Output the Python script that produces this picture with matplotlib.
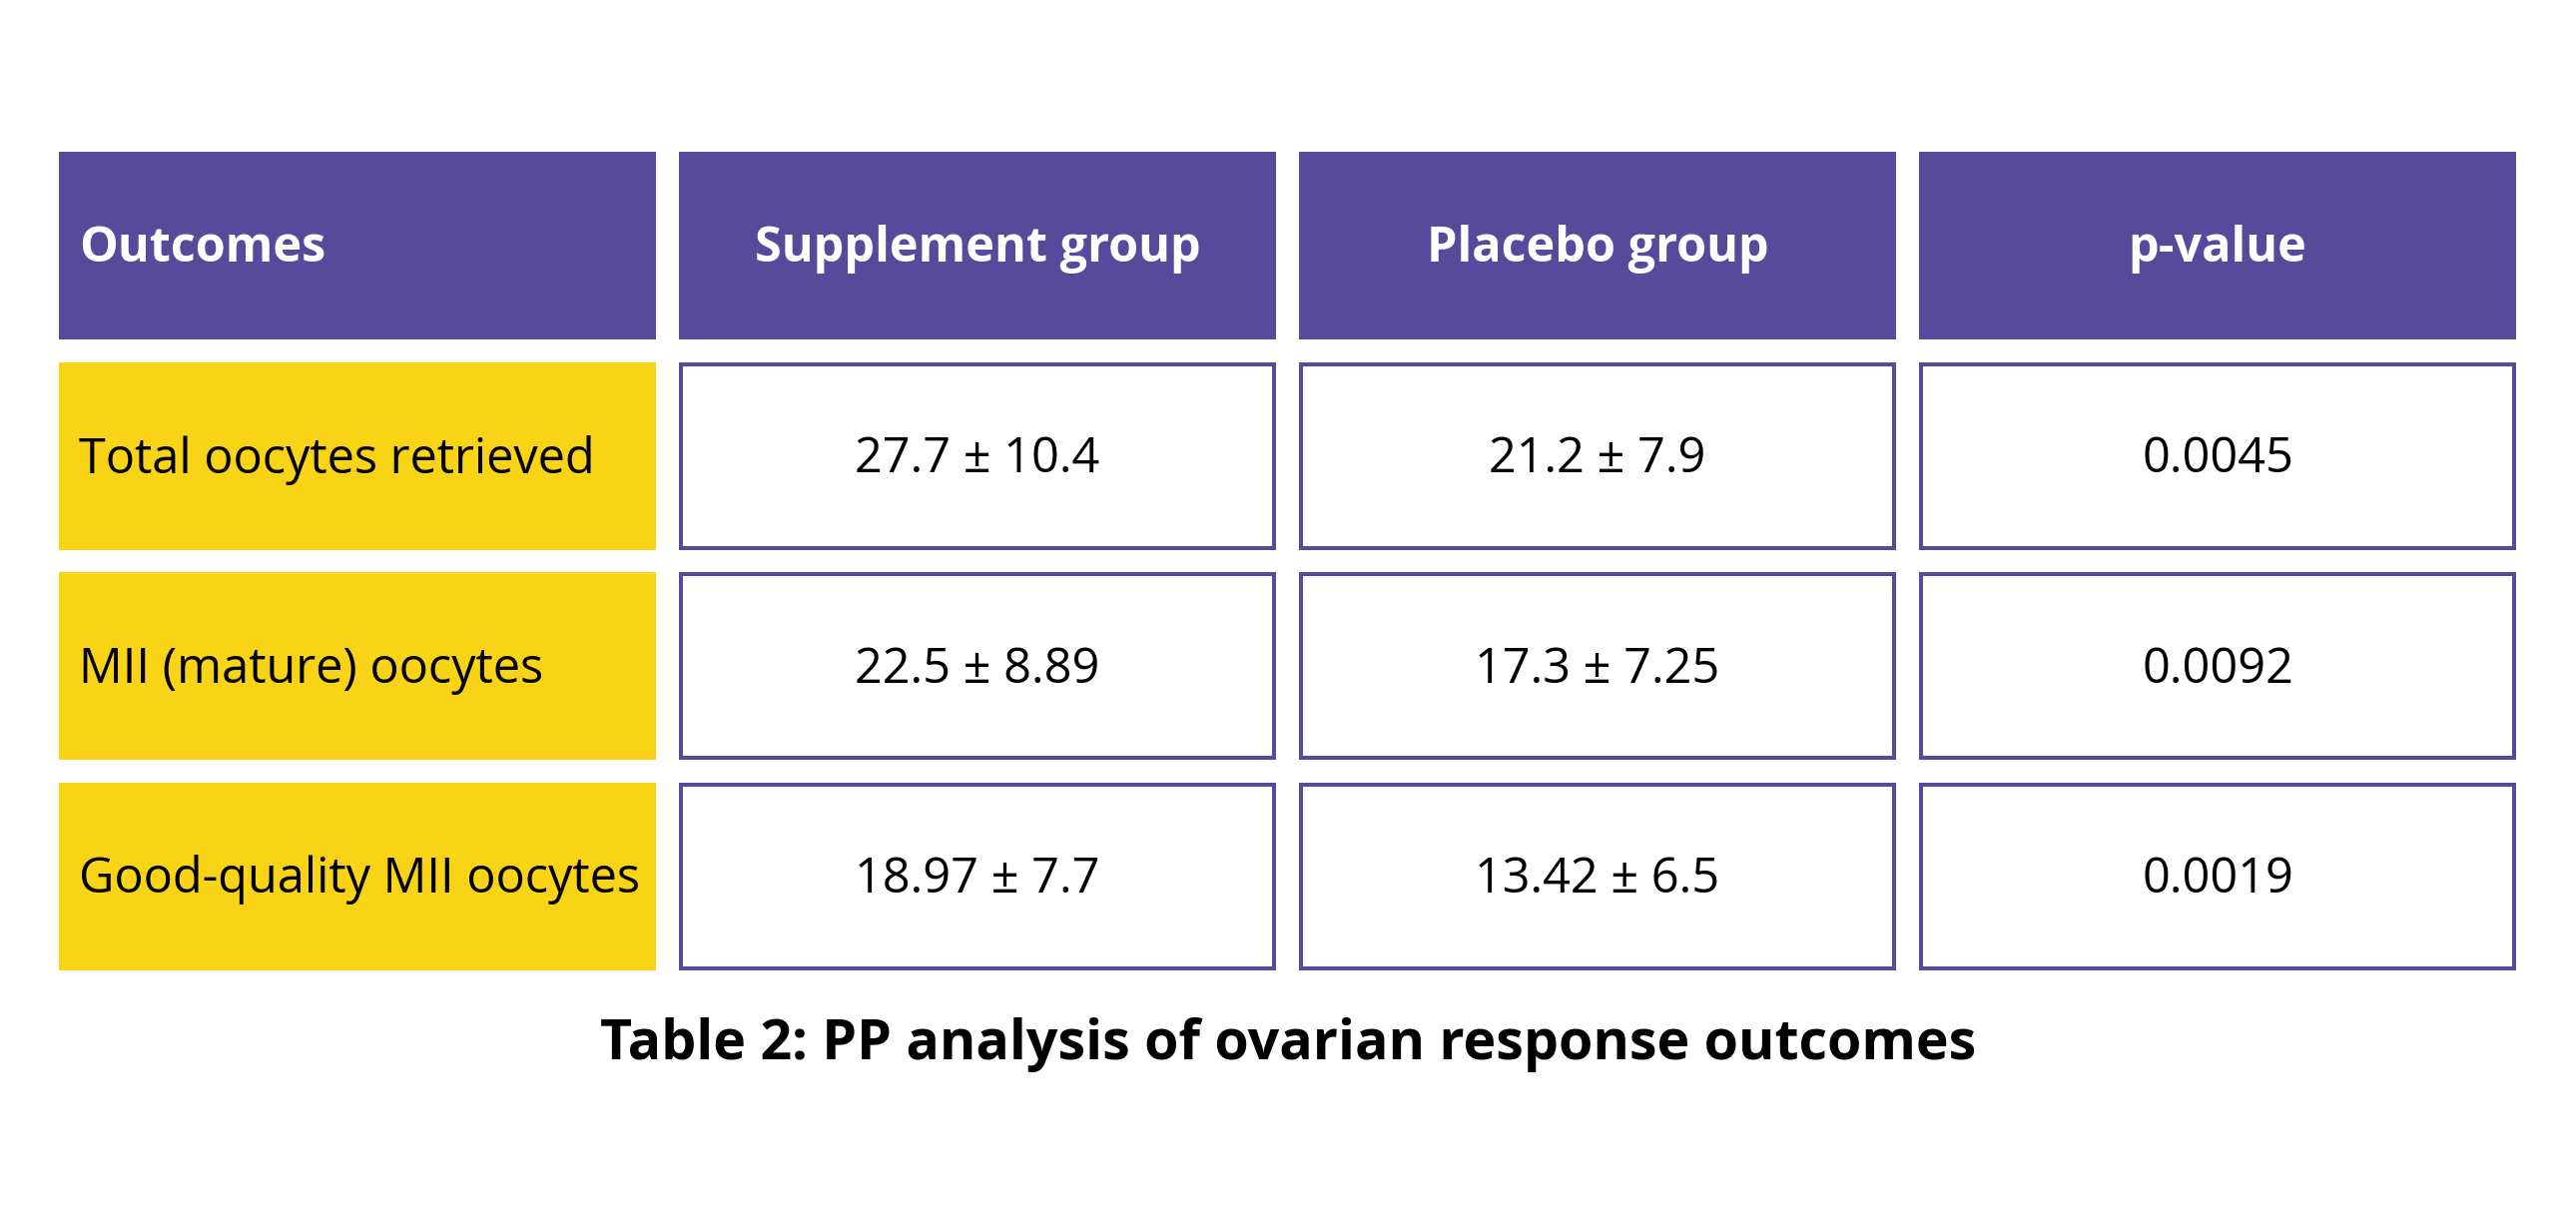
import matplotlib
matplotlib.use("Agg")
import matplotlib.pyplot as plt
from matplotlib.patches import Rectangle

# table content
columns  = ["Outcomes", "Supplement group", "Placebo group", "p-value"]
outcomes = ["Total oocytes retrieved", "MII (mature) oocytes", "Good-quality MII oocytes"]
supplement = ["27.7 ± 10.4", "22.5 ± 8.89", "18.97 ± 7.7"]
placebo    = ["21.2 ± 7.9", "17.3 ± 7.25", "13.42 ± 6.5"]
p_values   = ["0.0045", "0.0092", "0.0019"]
caption = "Table 2: PP analysis of ovarian response outcomes"

PURPLE = "#574A9A"
YELLOW = "#F8D316"

W, H = 2580, 1229
left, top   = 59, 152
col_w, col_gap = 598, 23
row_h, row_gap = 188, 22.5
text_dy = 4   # nudge text down a little to sit like the original

fig = plt.figure(figsize=(W / 100, H / 100), dpi=100)
ax = fig.add_axes([0, 0, 1, 1])
ax.set_xlim(0, W)
ax.set_ylim(H, 0)
ax.axis("off")

font = ["Open Sans", "DejaVu Sans"]


def cell_box(r, c):
    x = left + c * (col_w + col_gap)
    y = top + r * (row_h + row_gap)
    return x, y


# header row
for c, name in enumerate(columns):
    x, y = cell_box(0, c)
    ax.add_patch(Rectangle((x, y), col_w, row_h, facecolor=PURPLE, edgecolor="none"))
    if c == 0:
        ax.text(x + 20, y + row_h / 2 + text_dy, name, ha="left", va="center", color="white",
                fontsize=35, fontweight="bold", family=font)
    else:
        ax.text(x + col_w / 2, y + row_h / 2 + text_dy, name, ha="center", va="center",
                color="white", fontsize=35, fontweight="bold", family=font)

# body rows
body = [supplement, placebo, p_values]
for r, label in enumerate(outcomes):
    x, y = cell_box(r + 1, 0)
    ax.add_patch(Rectangle((x, y), col_w, row_h, facecolor=YELLOW, edgecolor="none"))
    ax.text(x + 20, y + row_h / 2 + text_dy, label, ha="left", va="center", color="black",
            fontsize=35, fontweight="normal", family=font)
    for c, values in enumerate(body, start=1):
        x, y = cell_box(r + 1, c)
        ax.add_patch(Rectangle((x + 2, y + 2), col_w - 4, row_h - 4, facecolor="white",
                               edgecolor=PURPLE, linewidth=2.9))
        ax.text(x + col_w / 2, y + row_h / 2 + text_dy, values[r], ha="center", va="center",
                color="black", fontsize=35, fontweight="normal", family=font)

ax.text(W / 2, 1046, caption, ha="center", va="center", color="black",
        fontsize=40, fontweight="bold", family=font)

fig.savefig("out.png", dpi=100, facecolor="white")
